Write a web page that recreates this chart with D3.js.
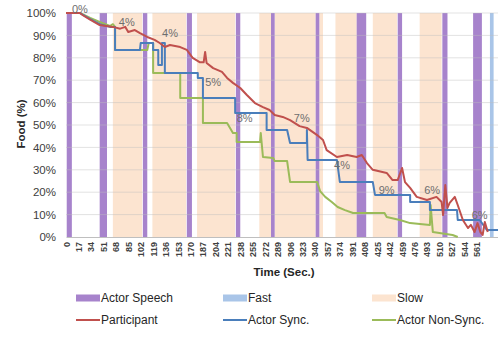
<!DOCTYPE html>
<html><head><meta charset="utf-8">
<script src="https://cdn.jsdelivr.net/npm/d3@7/dist/d3.min.js"></script>
<style>body{margin:0;background:#fff}svg{display:block;font-family:"Liberation Sans",Arial,sans-serif}</style>
</head><body><svg id="c" width="498" height="338"></svg>
<script>
// ---- data (time in seconds, food in %) ----
const timeTicks = [0,17,34,51,68,85,102,119,136,153,170,187,204,221,238,255,272,289,306,323,340,357,374,391,408,425,442,459,476,493,510,527,544,561];
const yTicks = [0,10,20,30,40,50,60,70,80,90,100];
const speechBands = [[1,8],[46,56],[105,111],[165,172],[232,238],[280,285],[341,346],[397,410],[453,459],[514,521],[556,568]];
const fastBands = [[579,584]];
const slowBands = [[64,104],[118,164],[179,231],[264,280],[285,341],[346,351],[368,397],[419,452],[483,513]];
const participant = [[0,100],[19,100],[23,99],[33,97],[46,94.6],[64,93.8],[74,93],[81,93.8],[85,91.5],[94,92.4],[101,91],[111,89.3],[121,88],[128,86.6],[135,84.8],[142,85.7],[156,84.8],[165,83.5],[173,80],[183,78],[188,78],[190,82.6],[192,77.7],[201,75.4],[213,73.7],[220,71],[228,68.8],[238,66.5],[247,63.4],[258,59.8],[269,58],[278,56.7],[285,54.5],[296,53.6],[306,52.2],[319,49.5],[329,48.7],[343,45.5],[351,43.3],[356,38.8],[370,35.7],[384,36.6],[397,35.7],[404,36.6],[411,33],[419,30],[438,28.6],[446,25.4],[453,25.4],[459,30.8],[463,24.5],[470,21.9],[479,17.9],[493,16.5],[506,17.9],[513,15.6],[515,9.8],[518,23.2],[521,13],[524,15.2],[531,17.9],[535,14.3],[542,7.6],[549,4],[553,5.4],[558,2.2],[562,6.2],[566,2.2],[569,0.9],[572,6.7],[576,2.2]];
const actorSync = [[0,100],[19,100],[33,97.3],[46,95],[60,93.8],[67,93.8],[67,83.5],[101,83.5],[102,86.6],[119,86.6],[119,83.5],[126,83.5],[126,76.8],[131,76.8],[131,86.6],[135,86.6],[135,73.2],[180,73.2],[180,71],[187,71],[187,62],[231,62],[231,55.4],[274,55.4],[274,47.8],[302,47.8],[306,42],[329,42],[329,47.8],[330,34.4],[370,34.4],[374,24.6],[419,24.6],[422,18.8],[470,18.8],[470,15.6],[497,15.6],[497,12],[534,12],[535,7.6],[565,7.6],[575,3.1],[590,3.1]];
const actorNonSync = [[0,100],[19,100],[33,97.8],[46,96],[60,94.2],[64,95],[67,93.8],[67,83.5],[111,83.5],[113,86.6],[119,86.6],[119,73.2],[156,73.2],[156,62],[187,62],[187,50.9],[220,50.9],[224,48.7],[228,46.4],[233,46.4],[233,42.4],[265,42.4],[266,46.4],[269,35.7],[283,35.3],[285,33.9],[302,33.9],[306,24.6],[343,24.6],[347,20.5],[354,17.9],[363,15.6],[371,13.4],[381,12],[392,10.7],[435,10.7],[438,8.9],[456,7.6],[470,6.2],[497,5.4],[498,14.3],[501,2.2],[528,0.9],[535,0]];
const diffLabels = [[19,101.8,"0%"],[83,96,"4%"],[142,91,"4%"],[201,69,"5%"],[244,53,"8%"],[322,53,"7%"],[377,32,"4%"],[438,21,"9%"],[500,21,"6%"],[565,10,"6%"]];
const legendItems = [["Actor Speech","area","#a783cc"],["Fast","area","#a9c5e8"],["Slow","area","#fce4d0"],["Participant","line","#c0504d"],["Actor Sync.","line","#4a7ebb"],["Actor Non-Sync.","line","#9bbb59"]];

// ---- drawing ----
const svg = d3.select("#c");
const x = d3.scaleLinear().domain([0,590]).range([66,498]);
const y = d3.scaleLinear().domain([0,100]).range([237,13]);

function bands(data, color){
  svg.append("g").selectAll("rect").data(data).join("rect")
    .attr("x", d=>x(d[0])).attr("width", d=>x(d[1])-x(d[0]))
    .attr("y", y(100)).attr("height", y(0)-y(100)).attr("fill", color);
}
bands(slowBands, "#fce4d0");
bands(fastBands, "#a9c5e8");
bands(speechBands, "#a783cc");

svg.append("g").selectAll("line").data(yTicks.filter(d=>d>0)).join("line")
  .attr("x1",66).attr("x2",498).attr("y1",d=>y(d)).attr("y2",d=>y(d))
  .attr("stroke","rgba(190,190,190,0.45)").attr("stroke-width",1);

const ya = svg.append("g").attr("transform","translate(66,0)")
  .call(d3.axisLeft(y).tickValues(yTicks).tickFormat(d=>d+"%").tickSize(0).tickPadding(10));
ya.select(".domain").remove();
ya.selectAll("text").attr("font-size","11.5px").attr("fill","#404040").attr("font-family","Liberation Sans, Arial, sans-serif");

const xa = svg.append("g").attr("transform","translate(0,237)")
  .call(d3.axisBottom(x).tickValues(timeTicks).tickFormat(d=>d).tickSize(0));
xa.select(".domain").attr("stroke","#bfbfbf");
xa.selectAll("text").attr("font-size","9px").attr("font-weight","bold").attr("fill","#404040")
  .attr("font-family","Liberation Sans, Arial, sans-serif")
  .attr("transform","rotate(-90)").attr("text-anchor","end").attr("dx","-5").attr("dy","3").attr("y",0);

const line = d3.line().x(d=>x(d[0])).y(d=>y(d[1]));
[[actorNonSync,"#9bbb59"],[actorSync,"#4a7ebb"],[participant,"#c0504d"]].forEach(([data,c])=>{
  svg.append("path").datum(data).attr("d",line).attr("fill","none").attr("stroke",c).attr("stroke-width",2).attr("stroke-linejoin","round");
});

svg.append("g").selectAll("text").data(diffLabels).join("text")
  .attr("x",d=>x(d[0])).attr("y",d=>y(d[1])+4).attr("text-anchor","middle")
  .attr("font-size","11px").attr("fill","#6e6e6e").text(d=>d[2]);

svg.append("text").attr("x",284).attr("y",276).attr("text-anchor","middle")
  .attr("font-size","11.5px").attr("font-weight","bold").attr("fill","#262626").text("Time (Sec.)");
svg.append("text").attr("transform","translate(25,124) rotate(-90)").attr("text-anchor","middle")
  .attr("font-size","11.5px").attr("font-weight","bold").attr("fill","#262626").text("Food (%)");

const lx = [76,223,372], ly = [298,320];
legendItems.forEach((d,i)=>{
  const gx = lx[i%3], gy = ly[Math.floor(i/3)];
  if(d[1]==="area") svg.append("rect").attr("x",gx).attr("y",gy-3.5).attr("width",24).attr("height",7).attr("fill",d[2]);
  else svg.append("line").attr("x1",gx).attr("x2",gx+24).attr("y1",gy).attr("y2",gy).attr("stroke",d[2]).attr("stroke-width",2);
  svg.append("text").attr("x",gx+25).attr("y",gy+4).attr("font-size","12px").attr("fill","#262626").text(d[0]);
});
</script></body></html>
